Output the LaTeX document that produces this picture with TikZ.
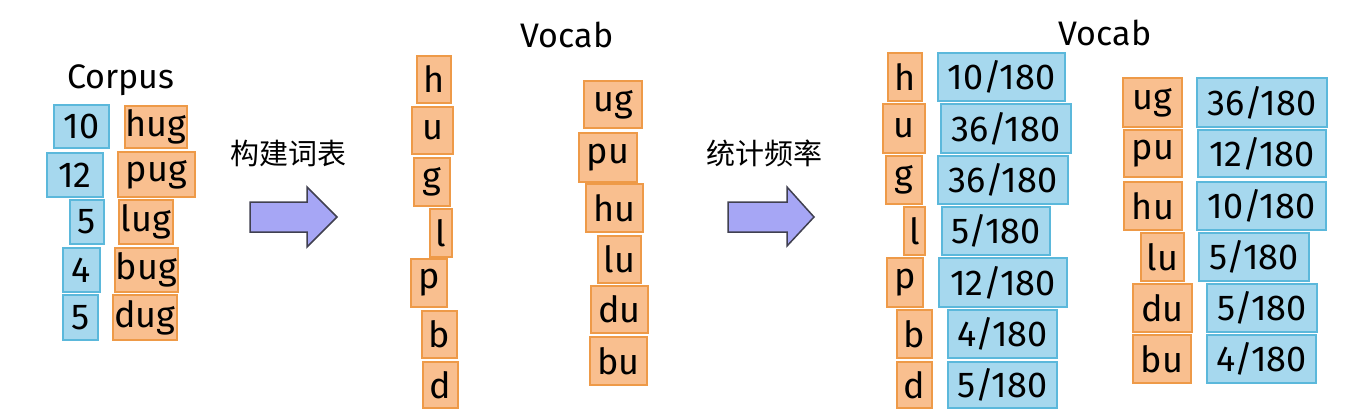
\documentclass[tikz,border=0pt]{standalone}
\usepackage{fontspec}
\setmainfont{Fira Sans}
\newfontfamily\cjk{Noto Sans CJK SC}
\definecolor{bfill}{HTML}{A6D8EE}
\definecolor{bline}{HTML}{5BB8DB}
\definecolor{ofill}{HTML}{F9BF8F}
\definecolor{oline}{HTML}{EE9A48}
\definecolor{afill}{HTML}{A6A6F5}
\definecolor{aline}{HTML}{404050}
\tikzset{
  bbox/.style={draw=bline, fill=bfill, line width=2.5pt, inner sep=0pt, font=\fontsize{36}{40}\selectfont},
  obox/.style={draw=oline, fill=ofill, line width=2.5pt, inner sep=0pt, font=\fontsize{36}{40}\selectfont},
  title/.style={font=\fontsize{34}{38}\selectfont, inner sep=0pt},
  cjklabel/.style={font=\cjk\fontsize{29}{32}\selectfont, inner sep=0pt},
  blockarrow/.style={draw=aline, fill=afill, line width=1.5pt, line join=miter}
}
\newcommand{\bx}[7]{\node[#2, minimum width={(#5-#3)*1pt}, minimum height={(#6-#4)*1pt}] (#1) at ({(#3+#5)/2},{(#4+#6)/2}) {#7};}
\begin{document}
\begin{tikzpicture}[x=1pt,y=-1pt]
\useasboundingbox (0,0) rectangle (1353,418);
% Corpus
\node[title] (corpus) at (121,80) {Corpus};
\bx{c10}{bbox}{54}{105}{109}{148}{10}
\bx{chug}{obox}{125}{106}{187}{148}{hug}
\bx{c12}{bbox}{47}{153}{103}{197}{12}
\bx{cpug}{obox}{118}{152}{195}{197}{pug}
\bx{c5a}{bbox}{70}{200}{104}{244}{5}
\bx{clug}{obox}{119}{200}{173}{244}{lug}
\bx{c4}{bbox}{63}{248}{100}{292}{4}
\bx{cbug}{obox}{115}{248}{178}{292}{bug}
\bx{c5b}{bbox}{63}{295}{98}{340}{5}
\bx{cdug}{obox}{113}{295}{177}{340}{dug}
% arrow 1
\node[cjklabel] (lab1) at (288,153) {构建词表};
\draw[blockarrow] (250,202) -- (307,202) -- (307,187) -- (337,217) -- (307,247) -- (307,232) -- (250,232) -- cycle;
% Vocab 1
\node[title] (vocab1) at (567,35) {Vocab};
\bx{vh}{obox}{417}{56}{451}{103}{h}
\bx{vu}{obox}{412}{107}{453}{154}{u}
\bx{vg}{obox}{414}{158}{450}{206}{g}
\bx{vl}{obox}{430}{209}{452}{257}{l}
\bx{vp}{obox}{411}{259}{447}{307}{p}
\bx{vb}{obox}{422}{311}{457}{358}{b}
\bx{vd}{obox}{423}{362}{458}{408}{d}
\bx{vug}{obox}{584}{81}{642}{128}{ug}
\bx{vpu}{obox}{579}{133}{637}{182}{pu}
\bx{vhu}{obox}{586}{184}{643}{232}{hu}
\bx{vlu}{obox}{598}{236}{641}{283}{lu}
\bx{vdu}{obox}{591}{286}{648}{333}{du}
\bx{vbu}{obox}{590}{337}{647}{385}{bu}
% arrow 2
\node[cjklabel] (lab2) at (764,153) {统计频率};
\draw[blockarrow] (728,202) -- (787,202) -- (787,187) -- (814,217) -- (787,246) -- (787,232) -- (728,232) -- cycle;
% Vocab 2
\node[title] (vocab2) at (1105,33) {Vocab};
\bx{wh}{obox}{888}{53}{922}{101}{h}
\bx{fh}{bbox}{938}{53}{1065}{101}{10/180}
\bx{wu}{obox}{883}{104}{925}{153}{u}
\bx{fu}{bbox}{941}{104}{1071}{153}{36/180}
\bx{wg}{obox}{886}{156}{922}{204}{g}
\bx{fg}{bbox}{938}{156}{1068}{204}{36/180}
\bx{wl}{obox}{904}{207}{925}{255}{l}
\bx{fl}{bbox}{942}{207}{1050}{255}{5/180}
\bx{wp}{obox}{887}{258}{923}{307}{p}
\bx{fp}{bbox}{939}{258}{1067}{307}{12/180}
\bx{wb}{obox}{897}{310}{932}{358}{b}
\bx{fb}{bbox}{948}{310}{1057}{358}{4/180}
\bx{wd}{obox}{897}{362}{932}{408}{d}
\bx{fd}{bbox}{948}{362}{1057}{408}{5/180}
\bx{wug}{obox}{1123}{78}{1182}{127}{ug}
\bx{fug}{bbox}{1197}{78}{1327}{127}{36/180}
\bx{wpu}{obox}{1124}{130}{1182}{177}{pu}
\bx{fpu}{bbox}{1198}{130}{1326}{177}{12/180}
\bx{whu}{obox}{1124}{182}{1182}{230}{hu}
\bx{fhu}{bbox}{1197}{182}{1326}{230}{10/180}
\bx{wlu}{obox}{1141}{233}{1184}{281}{lu}
\bx{flu}{bbox}{1199}{233}{1309}{281}{5/180}
\bx{wdu}{obox}{1133}{284}{1192}{332}{du}
\bx{fdu}{bbox}{1207}{284}{1317}{332}{5/180}
\bx{wbu}{obox}{1133}{335}{1191}{383}{bu}
\bx{fbu}{bbox}{1207}{335}{1316}{383}{4/180}
\end{tikzpicture}
\end{document}
